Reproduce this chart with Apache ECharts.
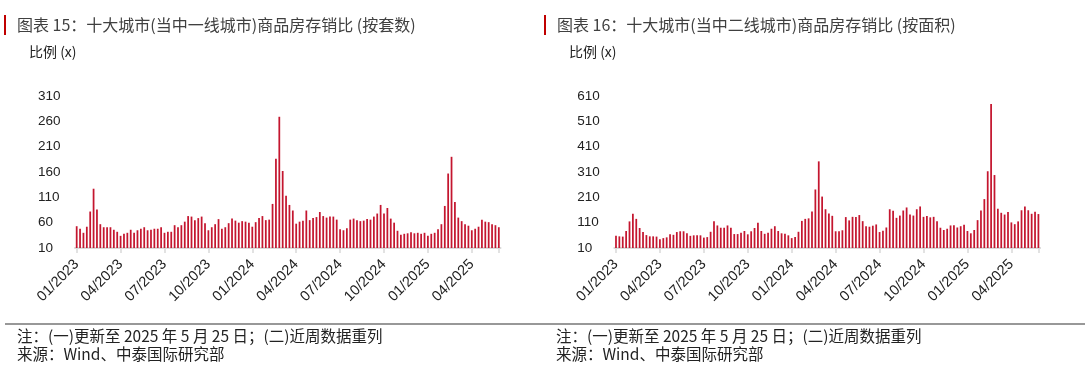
<!DOCTYPE html>
<html><head><meta charset="utf-8">
<script src="https://cdn.jsdelivr.net/npm/echarts@6/dist/echarts.min.js"></script>
<style>html,body{margin:0;padding:0;background:#fff}#c{width:1090px;height:369px}</style>
</head><body><div id="c"></div>
<script>
// ---- data ----
const firstWeek = '2023-01-01';
const weekCount = 126;
const tickLabels = ['01/2023','04/2023','07/2023','10/2023','01/2024','04/2024','07/2024','10/2024','01/2025','04/2025'];
const tickDates  = ['2023-01-01','2023-04-01','2023-07-01','2023-10-01','2024-01-01','2024-04-01','2024-07-01','2024-10-01','2025-01-01','2025-04-01'];

const leftValues = [
  53,48,40,52,82,127,86,57,51,51,51,46,42,34,38,40,46,40,45,48,51,45,46,48,48,51,40,42,42,55,51,55,
  62,73,72,65,69,72,59,45,51,57,67,48,51,59,68,64,60,63,62,60,52,61,69,73,65,66,97,186,269,162,113,
  95,84,58,62,64,84,65,69,71,81,73,70,72,72,66,47,45,49,66,68,65,63,64,67,66,72,78,95,78,89,68,60,
  44,36,38,39,41,39,40,38,40,34,38,40,47,57,93,157,190,101,70,63,57,54,45,48,52,66,62,61,57,55,51
];
const rightValues = [
  58,56,55,77,115,145,125,89,73,61,56,56,55,45,49,52,64,62,73,76,76,68,58,60,60,60,51,53,74,116,99,
  90,90,99,90,65,65,70,77,64,76,89,110,77,66,70,86,96,77,68,66,60,49,53,74,117,125,127,154,241,352,213,163,
  146,137,76,76,80,132,119,133,132,140,116,96,94,98,103,73,78,91,163,157,129,138,158,170,142,138,163,174,133,136,131,
  133,116,90,81,86,99,100,91,96,102,77,68,81,120,158,203,313,578,298,165,149,142,152,111,104,115,159,174,159,145,153,144
];

const leftTitle = '图表 15：十大城市(当中一线城市)商品房存销比 (按套数)';
const rightTitle = '图表 16：十大城市(当中二线城市)商品房存销比 (按面积)';
const unitLabel = '比例 (x)';
const noteText = '注：(一)更新至 2025 年 5 月 25 日；(二)近周数据重列';
const sourceText = '来源：Wind、中泰国际研究部';

// ---- categories (weekly dates) ----
const DAY = 86400000;
const t0 = Date.parse(firstWeek + 'T00:00:00Z');
const categories = [];
for (let i = 0; i < weekCount; i++) {
  categories.push(new Date(t0 + i * 7 * DAY).toISOString().slice(0, 10));
}
const labelAt = {};
tickDates.forEach((d, k) => {
  const t = Date.parse(d + 'T00:00:00Z');
  let best = 0, bd = Infinity;
  categories.forEach((c, i) => {
    const dd = Math.abs(Date.parse(c + 'T00:00:00Z') - t);
    if (dd < bd) { bd = dd; best = i; }
  });
  labelAt[best] = tickLabels[k];
});
const lastIdx = weekCount - 1;

const RED = '#C4162F';
const CJK = '"Noto Sans CJK SC", "Liberation Sans", sans-serif';
const NUM = '"Liberation Sans", "Noto Sans", sans-serif';

function xAxisFor(gi) {
  return {
    type: 'category', gridIndex: gi, data: categories, boundaryGap: true,
    axisLine: { show: true, lineStyle: { color: '#D9D9D9', width: 2 } },
    axisTick: { show: true, alignWithLabel: true, length: 5, lineStyle: { color: '#D9D9D9', width: 1.5 },
      interval: (i) => labelAt[i] !== undefined || i === lastIdx },
    axisLabel: { rotate: 45, margin: 14, fontSize: 14.5, color: '#222', fontFamily: NUM,
      interval: (i) => labelAt[i] !== undefined,
      formatter: (v, i) => labelAt[i] || '' },
    splitLine: { show: false }
  };
}
function yAxisFor(gi, max, step) {
  return {
    type: 'value', gridIndex: gi, min: 10, max: max, interval: step,
    axisLine: { show: false }, axisTick: { show: false }, splitLine: { show: false },
    axisLabel: { align: 'left', margin: 37, fontSize: 13.5, color: '#222', fontFamily: NUM }
  };
}

const chart = echarts.init(document.getElementById('c'), null, { renderer: 'canvas' });
chart.setOption({
  animation: false,
  backgroundColor: '#fff',
  grid: [
    { left: 75, top: 96, width: 425.5, height: 152 },
    { left: 614.3, top: 96, width: 425.8, height: 152 }
  ],
  xAxis: [xAxisFor(0), xAxisFor(1)],
  yAxis: [yAxisFor(0, 310, 50), yAxisFor(1, 610, 100)],
  series: [
    { type: 'bar', xAxisIndex: 0, yAxisIndex: 0, data: leftValues, barWidth: '52%', itemStyle: { color: RED } },
    { type: 'bar', xAxisIndex: 1, yAxisIndex: 1, data: rightValues, barWidth: '52%', itemStyle: { color: RED } }
  ],
  graphic: [
    { type: 'rect', left: 4, top: 15, shape: { width: 2, height: 20 }, style: { fill: '#C00000' } },
    { type: 'rect', left: 544, top: 15, shape: { width: 2, height: 20 }, style: { fill: '#C00000' } },
    { type: 'text', left: 17, top: 16.5, style: { text: leftTitle, font: '16px ' + CJK, fill: '#404040' } },
    { type: 'text', left: 557, top: 16.5, style: { text: rightTitle, font: '16px ' + CJK, fill: '#404040' } },
    { type: 'text', left: 29, top: 45, style: { text: unitLabel, font: '14px ' + CJK, fill: '#222' } },
    { type: 'text', left: 569, top: 45, style: { text: unitLabel, font: '14px ' + CJK, fill: '#222' } },
    { type: 'rect', left: 5, top: 323.5, shape: { width: 1080, height: 1 }, style: { fill: '#333' } },
    { type: 'text', left: 17, top: 328, style: { text: noteText, font: '15.5px ' + CJK, fill: '#222' } },
    { type: 'text', left: 556, top: 328, style: { text: noteText, font: '15.5px ' + CJK, fill: '#222' } },
    { type: 'text', left: 17, top: 346.5, style: { text: sourceText, font: '15.5px ' + CJK, fill: '#222' } },
    { type: 'text', left: 556, top: 346.5, style: { text: sourceText, font: '15.5px ' + CJK, fill: '#222' } }
  ]
});
</script>
</body></html>
